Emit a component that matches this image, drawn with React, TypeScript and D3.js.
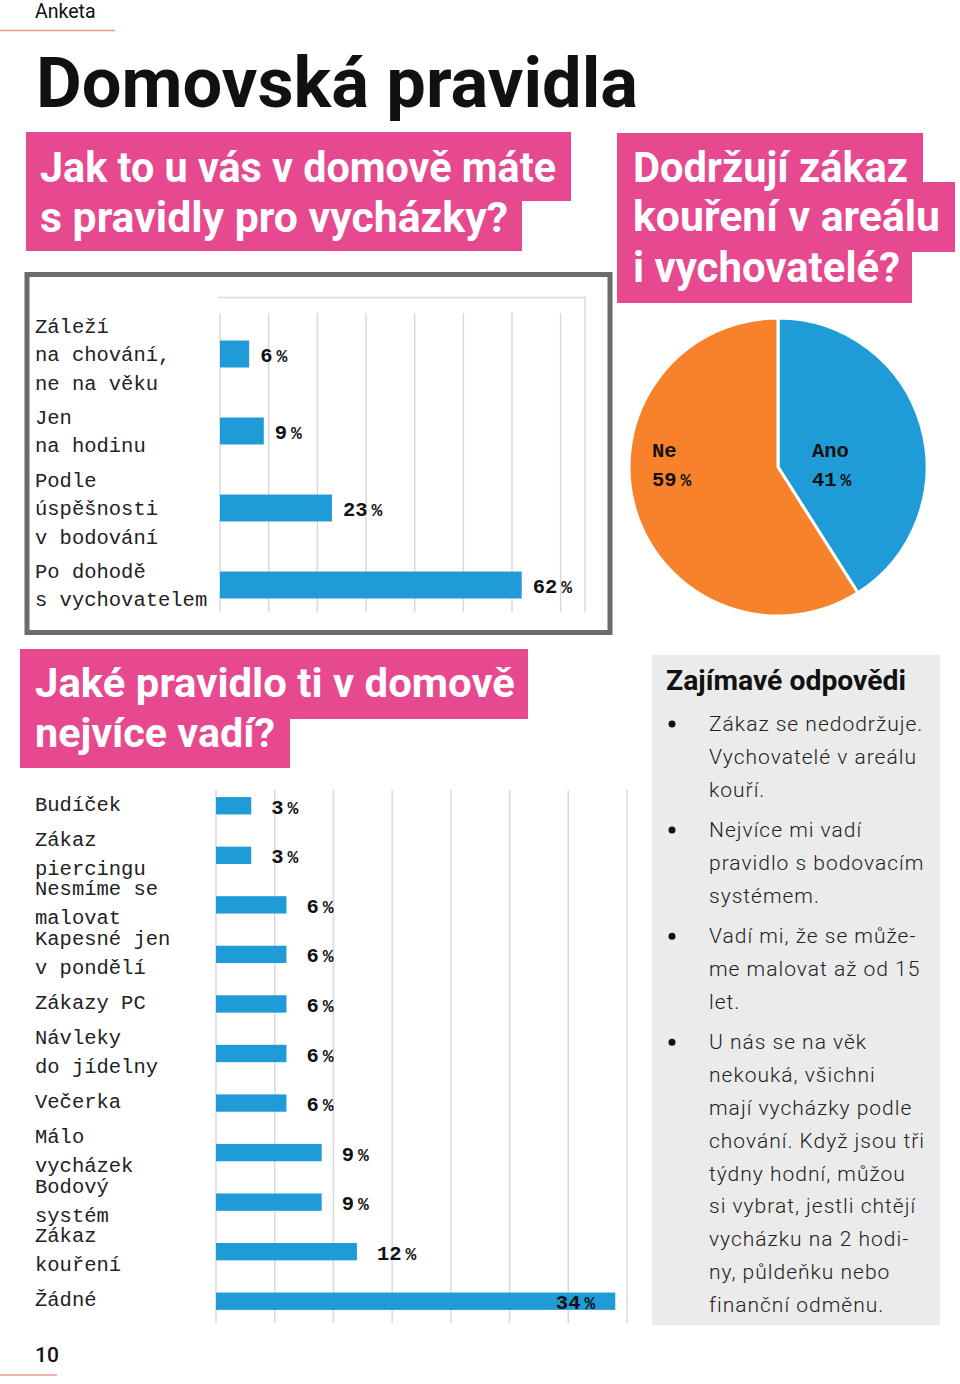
import React, { useRef, useEffect } from "react";
import * as d3 from "d3";

// --- data ---
const walkCategories = [
  ["Záleží", "na chování,", "ne na věku"],
  ["Jen", "na hodinu"],
  ["Podle", "úspěšnosti", "v bodování"],
  ["Po dohodě", "s vychovatelem"],
];
const walkValues = [6, 9, 23, 62];

const smokeLabels = ["Ano", "Ne"];
const smokeValues = [41, 59];

const ruleCategories = [
  ["Budíček"],
  ["Zákaz", "piercingu"],
  ["Nesmíme se", "malovat"],
  ["Kapesné jen", "v pondělí"],
  ["Zákazy PC"],
  ["Návleky", "do jídelny"],
  ["Večerka"],
  ["Málo", "vycházek"],
  ["Bodový", "systém"],
  ["Zákaz", "kouření"],
  ["Žádné"],
];
const ruleValues = [3, 3, 6, 6, 6, 6, 6, 9, 9, 12, 34];

const quotes = [
  ["Zákaz se nedodržuje.", "Vychovatelé v areálu", "kouří."],
  ["Nejvíce mi vadí", "pravidlo s bodovacím", "systémem."],
  ["Vadí mi, že se může-", "me malovat až od 15", "let."],
  [
    "U nás se na věk",
    "nekouká, všichni",
    "mají vycházky podle",
    "chování. Když jsou tři",
    "týdny hodní, můžou",
    "si vybrat, jestli chtějí",
    "vycházku na 2 hodi-",
    "ny, půldeňku nebo",
    "finanční odměnu.",
  ],
];

const colors = {
  pink: "#e6498f",
  blue: "#1f9bd7",
  orange: "#f8822b",
  grid: "#d9d9d9",
  frame: "#6b6b6c",
  text: "#111",
  panel: "#ebebeb",
  rule: "#e69a90",
};

const HEAD = "Roboto, 'DejaVu Sans', sans-serif";
const MONO = "'Liberation Mono', 'Courier New', monospace";

const App = () => {
  const svgRef = useRef(null);

  useEffect(() => {
    const svg = d3.select(svgRef.current);
    svg.selectAll("*").remove();

    // header
    svg.append("text").attr("x", 35).attr("y", 18).text("Anketa")
      .attr("font-family", HEAD).attr("font-size", 19.5).attr("fill", colors.text);
    svg.append("line").attr("x1", 0).attr("x2", 115).attr("y1", 30.5).attr("y2", 30.5)
      .attr("stroke", colors.rule).attr("stroke-width", 1.5);
    svg.append("text").attr("x", 36).attr("y", 107).text("Domovská pravidla")
      .attr("font-family", HEAD).attr("font-weight", 700).attr("font-size", 70)
      .attr("textLength", 602).attr("lengthAdjust", "spacingAndGlyphs").attr("fill", colors.text);

    // pink question boxes: [x, y, w, h] per line, then text
    const pinkBlock = (boxes, lines, size) => {
      boxes.forEach(([x, y, w, h]) =>
        svg.append("rect").attr("x", x).attr("y", y).attr("width", w).attr("height", h).attr("fill", colors.pink)
      );
      lines.forEach(([t, x, y, len]) =>
        svg.append("text").attr("x", x).attr("y", y).text(t)
          .attr("font-family", HEAD).attr("font-weight", 700).attr("font-size", size)
          .attr("textLength", len).attr("lengthAdjust", "spacingAndGlyphs").attr("fill", "#fff")
      );
    };
    pinkBlock(
      [[26, 132, 545, 69], [26, 200, 496, 51]],
      [["Jak to u vás v domově máte", 40, 182, 516], ["s pravidly pro vycházky?", 40, 232, 468]],
      43
    );
    pinkBlock(
      [[617, 133, 306, 50], [617, 182, 338, 70], [617, 251, 295, 52]],
      [["Dodržují zákaz", 633, 182, 275], ["kouření v areálu", 633, 231, 307], ["i vychovatelé?", 633, 282, 267]],
      43
    );
    pinkBlock(
      [[20, 649, 508, 70], [20, 718, 270, 50]],
      [["Jaké pravidlo ti v domově", 35, 697, 480], ["nejvíce vadí?", 35, 747, 240]],
      41
    );

    // value label helper: number + small gap + %
    const valueLabel = (g, x, y, v, anchor = "start") => {
      const t = g.append("text").attr("x", x).attr("y", y).attr("text-anchor", anchor)
        .attr("font-family", MONO).attr("font-weight", 700).attr("font-size", 20.5).attr("fill", colors.text);
      t.append("tspan").text(v);
      t.append("tspan").attr("dx", 4).attr("font-size", 18).text("%");
    };

    // ---- chart 1: walks ----
    svg.append("rect").attr("x", 27).attr("y", 274.5).attr("width", 583).attr("height", 358)
      .attr("fill", "none").attr("stroke", colors.frame).attr("stroke-width", 5);

    const x1 = d3.scaleLinear().domain([0, 75]).range([220, 585]);
    const y1 = d3.scaleBand().domain(walkCategories.map((d) => d.join(" "))).range([315.5, 623.5]).paddingInner(0.65).paddingOuter(0.325);
    const g1 = svg.append("g");
    g1.selectAll("line.grid").data(x1.ticks(8)).join("line").attr("class", "grid")
      .attr("x1", (d) => x1(d)).attr("x2", (d) => x1(d)).attr("y1", 313).attr("y2", 612)
      .attr("stroke", colors.grid).attr("stroke-width", 1.5);
    g1.append("path").attr("d", `M${x1(0) - 2},297.5H${x1(75)}V612`).attr("fill", "none")
      .attr("stroke", colors.grid).attr("stroke-width", 1.5);

    walkCategories.forEach((lines, i) => {
      const key = lines.join(" ");
      const c = y1(key) + y1.bandwidth() / 2;
      g1.append("rect").attr("x", x1(0)).attr("y", y1(key)).attr("width", x1(walkValues[i]) - x1(0))
        .attr("height", y1.bandwidth()).attr("fill", colors.blue);
      valueLabel(g1, x1(walkValues[i]) + 11, c + 7.5, walkValues[i]);
      lines.forEach((l, j) =>
        g1.append("text").attr("x", 35).attr("y", c + 7 + (j - (lines.length - 1) / 2) * 28.5).text(l)
          .attr("font-family", MONO).attr("font-size", 20.5).attr("fill", "#222")
      );
    });

    // ---- pie ----
    const cx = 778, cy = 467, r = 149;
    const pie = d3.pie().sort(null).value((d) => d)(smokeValues);
    const arc = d3.arc().innerRadius(0).outerRadius(r);
    const gp = svg.append("g").attr("transform", `translate(${cx},${cy})`);
    gp.selectAll("path").data(pie).join("path").attr("d", arc)
      .attr("fill", (d, i) => (i === 0 ? colors.blue : colors.orange))
      .attr("stroke", "#fff").attr("stroke-width", 3).attr("stroke-linejoin", "round");
    pie.forEach((d, i) => {
      const side = arc.centroid(d)[0] > 0 ? 34 : -126;
      gp.append("text").attr("x", side).attr("y", -10).text(smokeLabels[i])
        .attr("font-family", MONO).attr("font-weight", 700).attr("font-size", 20.5).attr("fill", colors.text);
      valueLabel(gp, side, 19, smokeValues[i]);
    });

    // ---- chart 2: rules ----
    const x2 = d3.scaleLinear().domain([0, 35]).range([216, 627]);
    const y2 = d3.scaleBand().domain(ruleCategories.map((d) => d.join(" "))).range([781, 1326]).paddingInner(0.65).paddingOuter(0.325);
    const g2 = svg.append("g");
    g2.selectAll("line.grid").data(x2.ticks(7)).join("line").attr("class", "grid")
      .attr("x1", (d) => x2(d)).attr("x2", (d) => x2(d)).attr("y1", 790).attr("y2", 1323)
      .attr("stroke", colors.grid).attr("stroke-width", 1.5);

    ruleCategories.forEach((lines, i) => {
      const key = lines.join(" ");
      const c = y2(key) + y2.bandwidth() / 2;
      const v = ruleValues[i];
      g2.append("rect").attr("x", x2(0)).attr("y", y2(key)).attr("width", x2(v) - x2(0))
        .attr("height", y2.bandwidth()).attr("fill", colors.blue);
      if (v > 30) valueLabel(g2, x2(v) - 20, c + 8, v, "end");
      else valueLabel(g2, x2(v) + 20, c + 8, v);
      lines.forEach((l, j) =>
        g2.append("text").attr("x", 35).attr("y", c + 5 + (j - (lines.length - 1) / 2) * 29).text(l)
          .attr("font-family", MONO).attr("font-size", 20.5).attr("fill", "#222")
      );
    });

    // ---- quotes panel ----
    svg.append("rect").attr("x", 652).attr("y", 655).attr("width", 288).attr("height", 670).attr("fill", colors.panel);
    svg.append("text").attr("x", 666).attr("y", 690).text("Zajímavé odpovědi")
      .attr("font-family", HEAD).attr("font-weight", 700).attr("font-size", 27)
      .attr("textLength", 240).attr("lengthAdjust", "spacingAndGlyphs").attr("fill", colors.text);
    let y = 731;
    quotes.forEach((q) => {
      svg.append("circle").attr("cx", 672).attr("cy", y - 7).attr("r", 3.5).attr("fill", colors.text);
      q.forEach((l) => {
        svg.append("text").attr("x", 709).attr("y", y).text(l)
          .attr("font-family", HEAD).attr("font-weight", 300).attr("font-size", 21)
          .attr("letter-spacing", 1).attr("fill", "#222");
        y += 32.8;
      });
      y += 7.7;
    });

    // footer
    svg.append("text").attr("x", 35).attr("y", 1362).text("10")
      .attr("font-family", HEAD).attr("font-weight", 500).attr("font-size", 21).attr("fill", colors.text);
    svg.append("line").attr("x1", 0).attr("x2", 57).attr("y1", 1375).attr("y2", 1375)
      .attr("stroke", colors.rule).attr("stroke-width", 1.5);
  }, []);

  return (
    <svg
      ref={svgRef}
      width={960}
      height={1384}
      style={{ position: "absolute", left: 0, top: 0, display: "block", background: "#fff" }}
    ></svg>
  );
};

export default App;
